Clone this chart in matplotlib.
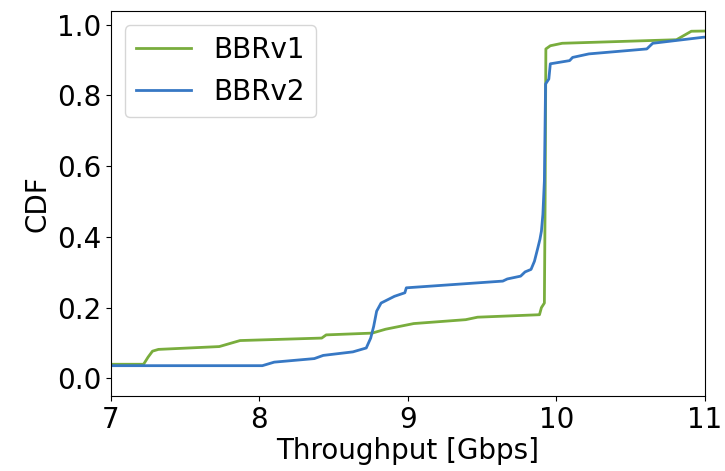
import numpy as np
import matplotlib.pyplot as plt

# BBRv1 throughput CDF
bbr1_x = [6.5, 7.22, 7.25, 7.28, 7.32, 7.73, 7.87, 8.42, 8.45, 8.76, 8.85, 9.04, 9.39, 9.47,
          9.887, 9.90, 9.92, 9.925, 9.93, 9.96, 10.04, 10.81, 10.91, 11.5]
bbr1_y = [0.04, 0.04, 0.06, 0.077, 0.082, 0.09, 0.107, 0.114, 0.123, 0.128, 0.139, 0.155, 0.166, 0.173,
          0.18, 0.20, 0.213, 0.5, 0.931, 0.94, 0.947, 0.957, 0.981, 0.985]

# BBRv2 throughput CDF
bbr2_x = [6.5, 8.02, 8.10, 8.37, 8.43, 8.63, 8.72, 8.75, 8.77, 8.79, 8.82, 8.91, 8.98, 8.99,
          9.64, 9.67, 9.76, 9.79, 9.83, 9.853, 9.876, 9.89, 9.90, 9.91, 9.92, 9.928, 9.95, 9.96,
          10.09, 10.11, 10.22, 10.61, 10.65, 10.99, 11.5]
bbr2_y = [0.036, 0.036, 0.046, 0.056, 0.065, 0.075, 0.086, 0.114, 0.147, 0.19, 0.213, 0.232, 0.242, 0.256,
          0.275, 0.281, 0.289, 0.301, 0.308, 0.331, 0.369, 0.393, 0.416, 0.464, 0.558, 0.832, 0.846, 0.889,
          0.898, 0.907, 0.917, 0.931, 0.947, 0.964, 0.975]

fig = plt.figure(figsize=(7.25, 4.71), dpi=100)
ax = fig.add_axes([0.153, 0.159, 0.819, 0.8175])

ax.plot(bbr1_x, bbr1_y, color='#79ad3d', lw=2, label='BBRv1')
ax.plot(bbr2_x, bbr2_y, color='#3778c4', lw=2, label='BBRv2')

ax.set_xlim(7, 11)
ax.set_ylim(-0.05, 1.038)
ax.set_xticks([7, 8, 9, 10, 11])
ax.set_yticks([0.0, 0.2, 0.4, 0.6, 0.8, 1.0])
ax.tick_params(labelsize=20)
ax.set_xlabel('Throughput [Gbps]', fontsize=20, labelpad=2)
ax.set_ylabel('CDF', fontsize=20)
ax.legend(loc='upper left', fontsize=20)

fig.savefig('out.png', dpi=100)
